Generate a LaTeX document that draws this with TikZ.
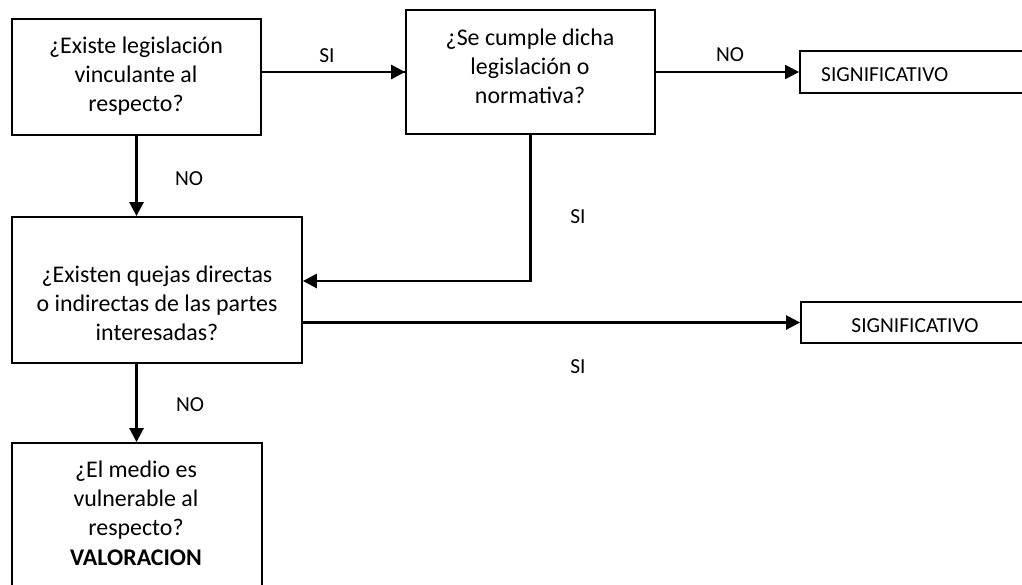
\documentclass[tikz,border=0pt]{standalone}
\usepackage{fontspec}
\setmainfont{Carlito}
\usetikzlibrary{arrows.meta}
\begin{document}
\begin{tikzpicture}[x=1pt,y=-1pt,
  box/.style={draw=black, line width=1.8pt, inner sep=0pt},
  qtext/.style={font=\fontsize{23.9}{29}\selectfont, align=center, inner sep=0pt},
  lbl/.style={font=\fontsize{21.4}{25}\selectfont, inner sep=0pt},
  conn/.style={line width=2.6pt, -{Triangle[length=14pt,width=14pt]}},
  thick2/.style={line width=2.6pt},
  thinline/.style={line width=1.2pt}]
\useasboundingbox (0,0) rectangle (1022,584);
\clip (0,0) rectangle (1022,584);
% boxes
\node[box, minimum width=249pt, minimum height=116pt] (b1) at (136.5,77) {};
\node[box, minimum width=249pt, minimum height=124pt] (b2) at (530.5,72) {};
\node[box, minimum width=290pt, minimum height=146pt] (b3) at (157,290) {};
\node[box, minimum width=250pt, minimum height=160pt] (b4) at (137,523) {};
\node[box, minimum width=240pt, minimum height=42pt] (s1) at (920,72) {};
\node[box, minimum width=240pt, minimum height=41pt] (s2) at (921,322.5) {};
% texts
\node[qtext] (t1) at (136,76) {¿Existe legislación\\vinculante al\\respecto?};
\node[qtext] (t2) at (530,66) {¿Se cumple dicha\\legislación o\\normativa?};
\node[qtext] (t3) at (157,303) {¿Existen quejas directas\\o indirectas de las partes\\interesadas?};
\node[qtext] (t4) at (136,513) {¿El medio es\\vulnerable al\\respecto?\\[1pt]\textbf{VALORACION}};
\node[lbl, anchor=west] (st1) at (821,75) {SIGNIFICATIVO};
\node[lbl] (st2) at (915,326) {SIGNIFICATIVO};
% labels
\node[lbl] (l1) at (327,56) {SI};
\node[lbl] (l2) at (730,55) {NO};
\node[lbl] (l3) at (189,179) {NO};
\node[lbl] (l4) at (578,217) {SI};
\node[lbl] (l5) at (578,367) {SI};
\node[lbl] (l6) at (190,405) {NO};
% connectors
\coordinate (c1a) at ([yshift=5pt]b1.east);
\draw[thinline] (c1a) -- (b2.west);
\draw[thick2] (c1a) -- ++(41,0);
\draw[conn] ([xshift=-40pt]b2.west) -- (b2.west);
\draw[line width=1.7pt, -{Triangle[length=14pt,width=14pt]}] (b2.east) -- (s1.west);
\draw[thick2] (b2.east) -- ++(42,0);
\draw[conn] (b1.south) -- (b1.south |- b3.north);
\coordinate (c4) at (b2.south |- 0,281);
\draw[conn] (b2.south) -- (c4) -- (c4 -| b3.east);
\draw[conn] (b3.east |- s2.west) -- (s2.west);
\draw[conn] (b3.south -| b1.south) -- (b1.south |- b4.north);
\end{tikzpicture}
\end{document}
